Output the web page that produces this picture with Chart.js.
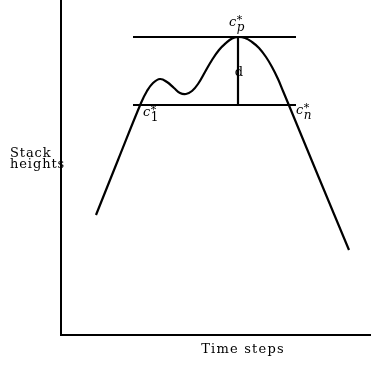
<!DOCTYPE html>
<html>
<head>
<meta charset="utf-8">
<script src="https://cdn.jsdelivr.net/npm/chart.js@4.4.1/dist/chart.umd.min.js"></script>
<style>
html,body{margin:0;padding:0;background:#fff;}
#wrap{width:371px;height:367px;position:relative;}
</style>
</head>
<body>
<div id="wrap"><canvas id="c" width="371" height="367"></canvas></div>
<script>
// Curve (time step, stack height) in chart units
const curveX = [35, 57, 80, 86, 92, 99, 106, 113, 119, 125, 131, 137, 144, 151, 158, 165, 171, 177, 184, 191, 198, 205, 211, 217, 222, 227, 258, 288];
const curveY = [120, 175, 232, 244, 252, 256, 253, 247, 242, 241, 244, 251, 263, 275, 285, 292, 296.5, 298, 297, 293, 287, 278, 268, 256, 244, 232, 157, 85];
// Reference levels
const levelX = [72, 235];
const peakLevel = 298;   // c_p*
const baseLevel = 230;   // c_1* / c_n*
const peakX = 177;
const xTitle = "Time steps";
const yTitle = ["Stack", "heights"];

const curve = curveX.map((x, i) => ({x, y: curveY[i]}));
const lineStyle = {showLine: true, pointRadius: 0, borderColor: '#000', borderWidth: 2.2, fill: false};

const serif = '"DejaVu Serif", "Liberation Serif", serif';

const annot = {
  id: 'annot',
  afterDraw(chart) {
    const {ctx, scales: {x, y}} = chart;
    ctx.save();
    ctx.fillStyle = '#000';
    ctx.textBaseline = 'alphabetic';
    function starLabel(px, py, sub) {
      ctx.letterSpacing = '0px';
      ctx.font = 'italic 13px ' + serif;
      ctx.textAlign = 'left';
      ctx.fillText('c', px, py);
      const w = ctx.measureText('c').width;
      ctx.font = '11px ' + serif;
      ctx.fillText('*', px + w + 0.5, py - 3);
      ctx.font = (sub === '1' ? '' : 'italic ') + '12px ' + serif;
      ctx.fillText(sub, px + w + 0.5, py + 5);
    }
    // c_p*
    starLabel(x.getPixelForValue(peakX) - 9, y.getPixelForValue(peakLevel) - 11, 'p');
    // c_1*
    starLabel(x.getPixelForValue(levelX[0]) + 10, y.getPixelForValue(baseLevel) + 11, '1');
    // c_n*
    starLabel(x.getPixelForValue(levelX[1]) + 0, y.getPixelForValue(baseLevel) + 9, 'n');
    // d
    ctx.font = '13px ' + serif;
    ctx.textAlign = 'center';
    ctx.fillText('d', x.getPixelForValue(peakX) + 1, y.getPixelForValue((peakLevel + baseLevel) / 2) + 5);
    // axis titles
    ctx.letterSpacing = '1.2px';
    ctx.font = '13px ' + serif;
    ctx.textAlign = 'center';
    ctx.fillText(xTitle, 243, 353);
    ctx.textAlign = 'left';
    ctx.letterSpacing = '0.9px';
    ctx.fillText(yTitle[0], 10, 157);
    ctx.fillText(yTitle[1], 10, 168);
    ctx.restore();
  }
};

new Chart(document.getElementById('c'), {
  type: 'scatter',
  data: {
    datasets: [
      Object.assign({data: curve, tension: 0.4}, lineStyle),
      Object.assign({data: levelX.map(v => ({x: v, y: peakLevel}))}, lineStyle),
      Object.assign({data: levelX.map(v => ({x: v, y: baseLevel}))}, lineStyle),
      Object.assign({data: [{x: peakX, y: baseLevel}, {x: peakX, y: peakLevel}]}, lineStyle)
    ]
  },
  options: {
    responsive: false,
    animation: false,
    events: [],
    layout: {padding: {left: 61, right: 0, top: 0, bottom: 32}},
    plugins: {legend: {display: false}, tooltip: {enabled: false}},
    scales: {
      x: {type: 'linear', min: 0, max: 310,
          ticks: {display: false}, grid: {display: false, drawTicks: false},
          border: {display: true, color: '#000', width: 2}},
      y: {type: 'linear', min: 0, max: 335,
          ticks: {display: false}, grid: {display: false, drawTicks: false},
          border: {display: true, color: '#000', width: 2}}
    }
  },
  plugins: [annot]
});
</script>
</body>
</html>
